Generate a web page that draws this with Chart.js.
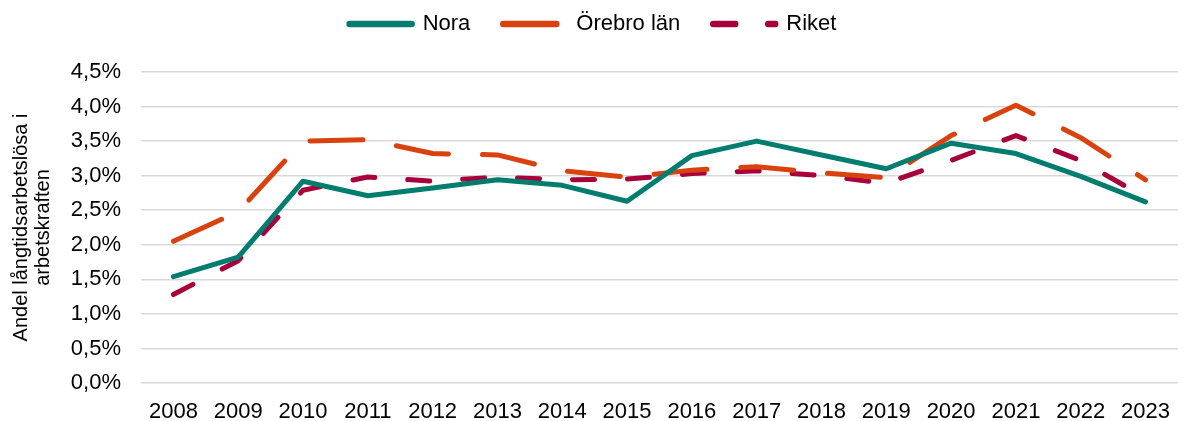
<!DOCTYPE html>
<html>
<head>
<meta charset="utf-8">
<script src="https://cdn.jsdelivr.net/npm/chart.js@4.4.1/dist/chart.umd.min.js"></script>
<style>
  html, body { margin: 0; padding: 0; background: #fff; }
  #wrap { width: 1186px; height: 421px; position: relative; }
</style>
</head>
<body>
<div id="wrap"><canvas id="c"></canvas></div>
<script>
const years = ["2008","2009","2010","2011","2012","2013","2014","2015","2016","2017","2018","2019","2020","2021","2022","2023"];
const nora = [1.54, 1.82, 2.92, 2.71, 2.82, 2.94, 2.86, 2.63, 3.29, 3.50, 3.30, 3.10, 3.47, 3.32, 2.99, 2.62];
const orebroLan = [2.05, 2.48, 3.50, 3.52, 3.32, 3.30, 3.07, 2.98, 3.08, 3.13, 3.04, 2.97, 3.58, 4.02, 3.55, 2.94];
const riket = [1.28, 1.77, 2.79, 2.98, 2.92, 2.98, 2.94, 2.95, 3.03, 3.07, 3.00, 2.89, 3.22, 3.58, 3.22, 2.68];
const seriesNames = ["Nora", "Örebro län", "Riket"];
const yAxisTitle = ["Andel långtidsarbetslösa i", "arbetskraften"];

const FONT = "'Liberation Sans', Arial, sans-serif";

const legendShift = {
  id: 'legendShift',
  afterLayout(chart) {
    const lg = chart.legend;
    if (lg) { lg.top -= 27; lg.bottom -= 27; }
  }
};

new Chart(document.getElementById('c'), {
  type: 'line',
  data: {
    labels: years,
    datasets: [
      { label: seriesNames[0], data: nora, borderColor: '#007D6F', backgroundColor: '#007D6F',
        borderWidth: 5, borderCapStyle: 'round', borderJoinStyle: 'round', pointRadius: 0, tension: 0 },
      { label: seriesNames[1], data: orebroLan, borderColor: '#D9420F', backgroundColor: '#D9420F',
        borderWidth: 5, borderDash: [53, 34], borderCapStyle: 'round', borderJoinStyle: 'round', pointRadius: 0, tension: 0 },
      { label: seriesNames[2], data: riket, borderColor: '#A8003B', backgroundColor: '#A8003B',
        borderWidth: 5, borderDash: [22, 33], borderCapStyle: 'round', borderJoinStyle: 'round', pointRadius: 0, tension: 0 }
    ]
  },
  plugins: [legendShift],
  options: {
    responsive: true,
    maintainAspectRatio: false,
    animation: false,
    layout: { padding: { left: 0, right: 0, top: 7, bottom: 0 } },
    plugins: {
      tooltip: { enabled: false },
      legend: {
        position: 'top',
        labels: {
          usePointStyle: true,
          pointStyle: 'line',
          pointStyleWidth: 62,
          boxHeight: 6,
          padding: 33,
          color: '#000',
          font: { family: FONT, size: 22 },
          generateLabels(chart) {
            const items = Chart.defaults.plugins.legend.labels.generateLabels(chart);
            items.forEach(it => {
              const ds = chart.data.datasets[it.datasetIndex];
              it.lineWidth = 6.5;
              it.lineCap = 'round';
              it.lineDash = ds.borderDash || [];
              it.strokeStyle = ds.borderColor;
            });
            return items;
          }
        }
      }
    },
    scales: {
      x: {
        offset: true,
        grid: { display: false, drawTicks: false },
        border: { display: false },
        ticks: { color: '#000', font: { family: FONT, size: 22 }, padding: 16, maxRotation: 0, autoSkip: false },
        afterFit: s => { s.height = 38; }
      },
      y: {
        min: 0, max: 4.5,
        grid: { color: '#D9D9D9', lineWidth: 1.5, drawTicks: false },
        border: { display: false },
        ticks: {
          stepSize: 0.5, color: '#000', padding: 20,
          font: { family: FONT, size: 22 },
          callback: v => v.toFixed(1).replace('.', ',') + '%'
        },
        title: {
          display: true, text: yAxisTitle, color: '#000',
          font: { family: FONT, size: 20, lineHeight: 1.12 }, padding: { top: 10, bottom: 0 }
        },
        afterFit: s => { s.width = 141; }
      }
    }
  }
});
</script>
</body>
</html>
